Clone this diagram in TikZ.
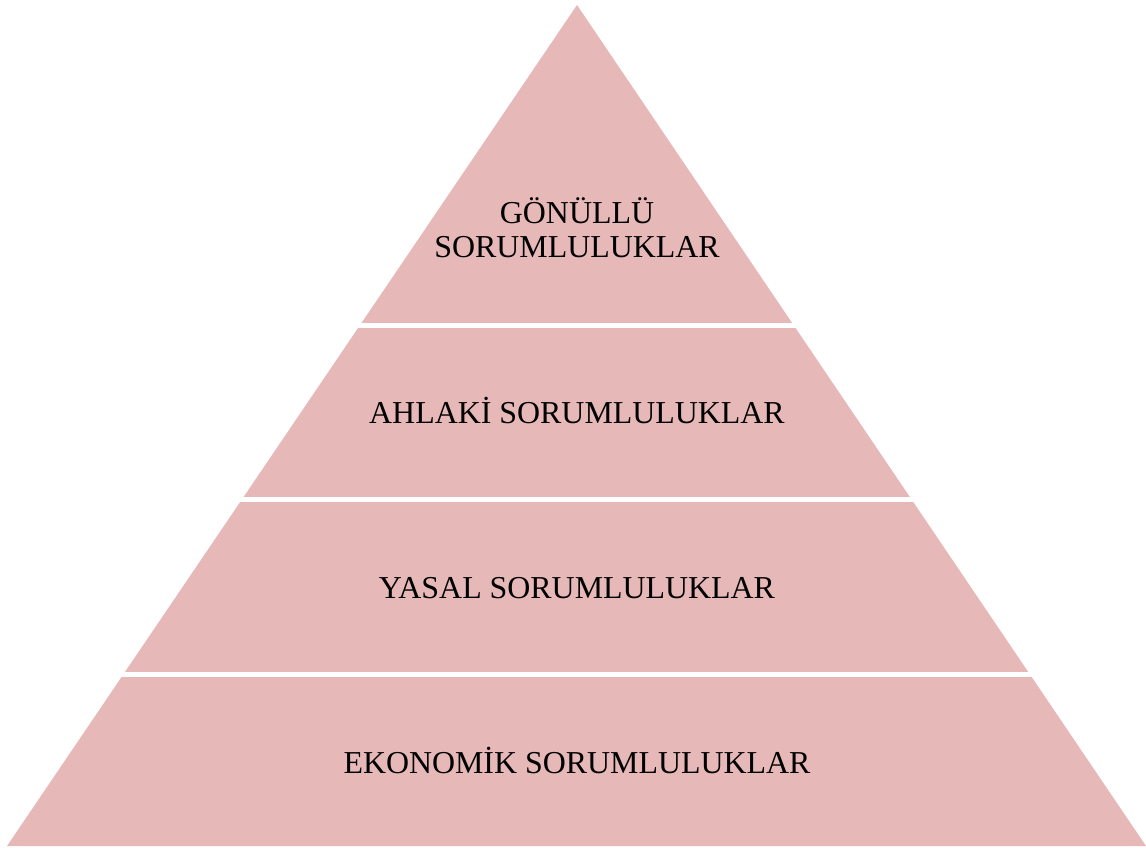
\documentclass[tikz,border=0pt]{standalone}
\usepackage{fontspec}
\setmainfont{Liberation Serif}
\definecolor{layerpink}{RGB}{230,184,183}
\begin{document}
\begin{tikzpicture}[x=1pt,y=-1pt,
  layer/.style={fill=layerpink,draw=none},
  gap/.style={draw=white,line width=5pt},
  label/.style={anchor=base,inner sep=0pt,font=\fontsize{31.9}{36}\selectfont}]
\useasboundingbox (0,0) rectangle (1146,847);
% whole pyramid
\fill[layer] (577,5) -- (1146,846) -- (7,846) -- cycle;
% white separations between the levels
\draw[gap] (0,325) -- (1146,325);
\draw[gap] (0,499.5) -- (1146,499.5);
\draw[gap] (0,674.5) -- (1146,674.5);
% level labels
\node[label] (g1) at (577,223) {GÖNÜLLÜ};
\node[label] (g2) at (577,257) {SORUMLULUKLAR};
\node[label] (ahl) at (577,423) {AHLAKİ SORUMLULUKLAR};
\node[label] (yas) at (577,598) {YASAL SORUMLULUKLAR};
\node[label] (eko) at (577,773) {EKONOMİK SORUMLULUKLAR};
\end{tikzpicture}
\end{document}
